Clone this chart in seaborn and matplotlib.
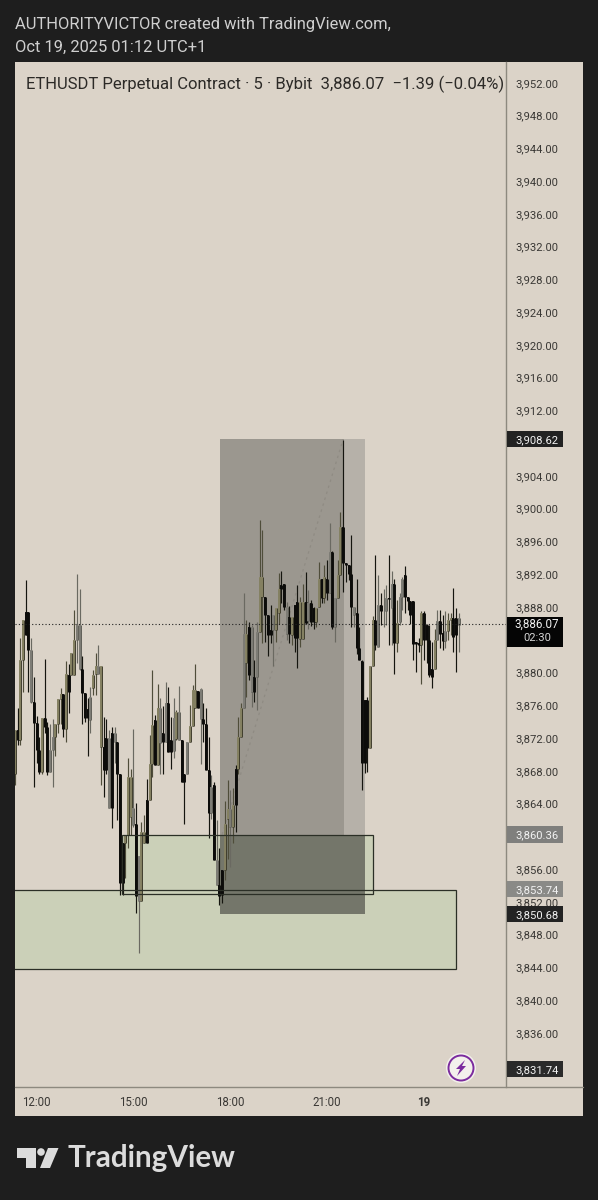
import matplotlib
matplotlib.use("Agg")
import matplotlib.pyplot as plt
import matplotlib.patches as mpatches
from matplotlib.transforms import ScaledTranslation
import numpy as np
import pandas as pd
import seaborn as sns

sns.set_style("white")
plt.rcParams["font.family"] = ["Roboto", "DejaVu Sans"]

# 5 minute candles
opens = [3867.8, 3873.1, 3871.9, 3881.7, 3884.7, 3887.5, 3882.9, 3876.6, 3874.0, 3870.7,
         3868.0, 3874.6, 3873.5, 3868.0, 3870.7, 3872.3, 3873.9, 3876.9, 3877.5, 3873.3,
         3879.8, 3879.8, 3879.8, 3884.1, 3886.0, 3880.6, 3877.7, 3874.6, 3874.4, 3878.2,
         3879.9, 3879.9, 3880.9, 3871.1, 3868.3, 3872.1, 3863.6, 3872.7, 3871.7, 3867.8,
         3854.4, 3859.3, 3860.3, 3867.4, 3861.5, 3861.6, 3852.2, 3852.2, 3860.7, 3859.3,
         3864.6, 3873.7, 3868.9, 3868.9, 3875.8, 3871.7, 3876.4, 3876.4, 3870.4, 3870.5,
         3872.0, 3875.3, 3871.9, 3866.8, 3867.8, 3871.6, 3873.6, 3878.0, 3875.8, 3878.1,
         3874.5, 3873.9, 3868.2, 3863.0, 3866.4, 3857.3, 3854.2, 3853.0, 3856.0, 3862.3,
         3863.5, 3861.3, 3864.0, 3868.4, 3872.3, 3875.8, 3884.9, 3879.8, 3885.7, 3877.8,
         3879.6, 3885.1, 3891.8, 3889.4, 3887.2, 3885.3, 3885.3, 3885.3, 3887.4, 3890.8,
         3890.9, 3888.2, 3884.9, 3884.7, 3884.3, 3888.7, 3888.8, 3884.2, 3888.8, 3886.4,
         3888.6, 3888.0, 3886.3, 3888.2, 3891.5, 3889.2, 3891.6, 3889.8, 3894.9, 3885.7,
         3889.2, 3892.0, 3897.9, 3893.5, 3893.3, 3892.2, 3888.2, 3887.4, 3883.1, 3881.5,
         3876.8, 3876.8, 3870.9, 3880.9, 3886.6, 3883.3, 3888.4, 3887.6, 3887.7, 3889.3,
         3888.0, 3891.0, 3883.7, 3886.3, 3889.4, 3892.1, 3889.4, 3888.9, 3888.9, 3883.9,
         3883.8, 3883.5, 3887.4, 3885.9, 3884.1, 3880.6, 3880.6, 3884.1, 3886.4, 3885.0,
         3884.0, 3885.2, 3886.6, 3886.8, 3886.8, 3885.9]
highs = [3873.1, 3875.8, 3884.3, 3886.6, 3891.4, 3887.5, 3884.3, 3879.6, 3874.8, 3872.3,
         3874.6, 3881.8, 3874.1, 3873.9, 3874.5, 3873.9, 3876.9, 3878.2, 3877.5, 3881.5,
         3881.2, 3882.5, 3887.8, 3892.2, 3890.4, 3882.1, 3877.7, 3877.0, 3878.4, 3880.4,
         3882.5, 3883.5, 3880.9, 3874.7, 3874.5, 3873.1, 3873.5, 3873.5, 3871.7, 3867.8,
         3859.3, 3860.3, 3869.7, 3868.4, 3873.2, 3864.2, 3857.7, 3861.9, 3862.7, 3867.2,
         3872.5, 3880.4, 3875.0, 3878.7, 3877.0, 3876.0, 3879.0, 3878.4, 3874.7, 3877.0,
         3875.6, 3878.5, 3871.9, 3867.8, 3871.6, 3876.2, 3878.6, 3881.2, 3877.9, 3878.2,
         3876.4, 3875.8, 3872.3, 3867.6, 3866.8, 3862.1, 3858.7, 3856.0, 3864.4, 3867.0,
         3865.8, 3866.0, 3868.8, 3874.7, 3876.4, 3889.8, 3886.5, 3886.3, 3885.9, 3881.7,
         3886.3, 3898.8, 3897.5, 3889.4, 3887.2, 3888.4, 3887.2, 3888.0, 3892.3, 3892.5,
         3890.9, 3888.7, 3888.3, 3886.9, 3888.4, 3890.8, 3889.4, 3891.0, 3892.4, 3890.2,
         3889.0, 3888.2, 3888.0, 3893.6, 3891.5, 3893.3, 3893.9, 3898.4, 3895.0, 3889.2,
         3893.9, 3899.7, 3908.5, 3893.5, 3893.3, 3896.9, 3888.2, 3891.6, 3885.7, 3881.7,
         3876.8, 3877.2, 3880.9, 3887.0, 3894.5, 3892.0, 3889.8, 3890.4, 3890.8, 3894.5,
         3892.5, 3891.6, 3889.0, 3889.8, 3891.8, 3893.1, 3889.4, 3888.9, 3888.9, 3883.9,
         3884.4, 3887.6, 3887.6, 3886.1, 3885.9, 3883.9, 3885.5, 3887.8, 3887.8, 3887.2,
         3887.6, 3887.4, 3887.4, 3890.5, 3888.0, 3887.4]
lows = [3866.4, 3871.3, 3871.3, 3877.8, 3884.7, 3877.8, 3876.4, 3866.2, 3869.1, 3867.8,
        3867.8, 3872.7, 3867.6, 3868.0, 3866.2, 3869.9, 3872.7, 3873.9, 3872.3, 3871.7,
        3875.2, 3879.8, 3879.8, 3881.3, 3880.4, 3873.9, 3874.1, 3869.9, 3872.7, 3877.4,
        3877.4, 3879.9, 3866.4, 3865.0, 3867.8, 3863.6, 3861.1, 3869.1, 3862.1, 3853.0,
        3853.0, 3855.0, 3858.7, 3860.3, 3861.3, 3850.8, 3845.9, 3852.2, 3859.3, 3859.3,
        3864.6, 3867.4, 3868.8, 3868.8, 3867.8, 3867.8, 3871.7, 3870.4, 3868.4, 3869.7,
        3871.9, 3871.9, 3866.8, 3861.7, 3867.8, 3871.6, 3873.6, 3875.8, 3875.8, 3869.0,
        3871.7, 3868.2, 3859.9, 3862.3, 3857.3, 3854.2, 3851.8, 3852.0, 3854.8, 3857.4,
        3856.4, 3859.3, 3860.7, 3867.8, 3872.3, 3875.8, 3877.2, 3879.2, 3875.9, 3876.6,
        3875.6, 3885.1, 3883.7, 3883.9, 3882.1, 3883.7, 3880.9, 3883.9, 3886.1, 3888.6,
        3887.8, 3884.1, 3883.7, 3883.5, 3882.7, 3880.7, 3883.3, 3884.2, 3886.1, 3885.5,
        3885.8, 3885.4, 3885.7, 3888.2, 3888.6, 3888.6, 3889.0, 3889.8, 3885.5, 3883.9,
        3889.2, 3892.0, 3890.0, 3891.2, 3891.4, 3885.7, 3885.7, 3882.4, 3881.7, 3865.8,
        3867.9, 3868.0, 3870.9, 3880.9, 3882.9, 3883.3, 3885.9, 3885.7, 3885.9, 3883.5,
        3883.5, 3880.0, 3882.7, 3885.9, 3887.8, 3887.4, 3887.8, 3886.1, 3881.7, 3880.2,
        3882.7, 3878.8, 3881.7, 3881.3, 3879.6, 3878.2, 3880.6, 3884.1, 3883.1, 3882.9,
        3883.1, 3884.1, 3884.7, 3882.7, 3880.2, 3882.7]
closes = [3873.1, 3871.9, 3881.7, 3886.6, 3887.5, 3882.9, 3876.6, 3874.0, 3870.7, 3868.0,
          3874.6, 3873.5, 3868.0, 3870.7, 3872.3, 3873.9, 3876.9, 3877.5, 3873.3, 3880.0,
          3877.8, 3882.5, 3884.1, 3886.0, 3880.6, 3877.7, 3874.6, 3875.7, 3877.2, 3879.8,
          3880.9, 3880.9, 3871.1, 3868.3, 3872.1, 3863.6, 3872.7, 3871.7, 3867.8, 3854.4,
          3859.3, 3860.3, 3867.4, 3862.5, 3863.6, 3852.8, 3857.7, 3860.7, 3859.3, 3864.6,
          3869.0, 3869.0, 3874.4, 3875.8, 3871.5, 3872.7, 3871.7, 3870.4, 3871.9, 3874.6,
          3875.3, 3871.9, 3866.8, 3867.8, 3871.6, 3873.6, 3878.0, 3875.8, 3877.9, 3874.5,
          3873.9, 3868.2, 3863.0, 3866.2, 3857.3, 3854.2, 3852.9, 3856.0, 3861.7, 3863.5,
          3861.3, 3864.0, 3868.4, 3872.3, 3875.8, 3884.9, 3881.3, 3885.7, 3877.8, 3879.6,
          3885.1, 3891.8, 3889.4, 3887.2, 3884.7, 3884.7, 3887.2, 3888.0, 3890.3, 3890.3,
          3888.2, 3884.9, 3886.9, 3886.9, 3888.4, 3884.3, 3884.2, 3888.8, 3886.2, 3888.6,
          3886.3, 3886.3, 3888.0, 3891.5, 3889.2, 3891.8, 3889.8, 3894.9, 3885.7, 3889.2,
          3892.0, 3897.9, 3893.5, 3893.3, 3892.2, 3888.2, 3887.2, 3883.1, 3881.7, 3869.1,
          3869.1, 3870.9, 3880.9, 3886.6, 3883.5, 3888.4, 3887.6, 3887.7, 3889.2, 3889.1,
          3891.0, 3883.7, 3886.2, 3889.4, 3891.6, 3889.4, 3888.9, 3887.2, 3883.6, 3883.6,
          3883.5, 3887.4, 3884.1, 3884.1, 3879.8, 3879.6, 3884.1, 3886.4, 3884.9, 3884.0,
          3885.2, 3886.6, 3886.8, 3884.5, 3884.7, 3886.8]
kinds = list("okookkgkkk"
             "okkggoooko"
             "kooggkkkgo"
             "ogokkgkgkk"
             "kooogkgook"
             "ookogkgkkg"
             "ogkkgoookg"
             "kkkgkgkkoo"
             "gokoogokgk"
             "gookkkgook"
             "kgkokkookg"
             "kkookokgkg"
             "ookkkkgkkk"
             "kkookgkggk"
             "gkoggkkkkk"
             "kokkkkogkk"
             "gookkg")

time_ticks = [8, 44, 80, 116, 152]
time_labels = ["12:00", "15:00", "18:00", "21:00", "19"]
# the tags cover 3,908 / 3,884 / 3,860 on the scale
price_ticks = [p for p in range(3836, 3953, 4) if p not in (3908, 3884, 3860)]

last_price = 3886.07
trade_top = 3908.62
trade_mid = 3860.36
trade_bottom = 3850.68
low_tag = 3831.74
zone_top = 3853.74

body_colors = {"k": "#0c0c0a", "g": "#82817a", "o": "#8f8b6a"}
edge_colors = {"k": "#0c0c0a", "g": "#5f5e57", "o": "#3f3d2c"}
wick_colors = {"k": "#15150f", "g": "#6a6961", "o": "#4f4d3a"}

bars = pd.DataFrame({"i": np.arange(len(opens)), "open": opens, "high": highs,
                     "low": lows, "close": closes, "kind": kinds})
wicks = bars.melt(id_vars=["i", "kind"], value_vars=["high", "low"], value_name="price")
bodies = bars.melt(id_vars=["i", "kind"], value_vars=["open", "close"], value_name="price")

W, H = 598, 1200
fig = plt.figure(figsize=(W / 100, H / 100), dpi=100, facecolor="#1e1e1e")

# px overlay for the frame, header and logo
over = fig.add_axes([0, 0, 1, 1], zorder=0)
over.set_xlim(0, W)
over.set_ylim(H, 0)
over.axis("off")
over.add_patch(mpatches.Rectangle((15, 62), 568, 1054, fc="#dbd3c8", ec="none"))
over.plot([15, 583], [1086.5, 1086.5], color="#8d897f", lw=1)

ax = fig.add_axes([15 / W, 1 - 1086.5 / H, 491 / W, 1024.5 / H], zorder=1)
ax.patch.set_alpha(0)
ax.set_xlim(0, 491 / 2.69)
ax.set_ylim(3952 - 1002.5 / 8.19, 3952 + 22 / 8.19)


def box(x0, x1, y0, y1, **kw):
    ax.add_patch(mpatches.Rectangle((x0, y0), x1 - x0, y1 - y0, **kw))


# green zones, then the long position tool over them
box(-5, 163.9, 3843.9, 3853.6, fc="#cbd0b8", ec="none", zorder=1)
box(39.8, 133.1, 3853.1, trade_mid, fc="#cbd0b8", ec="none", zorder=1)
box(76.2, 122.3, trade_mid, trade_top, fc="#9b978f", ec="none", zorder=1.2)
box(122.3, 130.1, trade_mid, trade_top, fc="#b6b1a9", ec="none", zorder=1.2)
box(76.2, 130.1, trade_bottom, trade_mid, fc="#74766a", ec="none", zorder=1.2)
ax.plot([77, 122], [trade_mid, trade_top], color="#8f8b83", lw=0.9, ls=(0, (2, 3)), zorder=1.3)

sns.lineplot(data=wicks, x="i", y="price", units="i", hue="kind", palette=wick_colors,
             estimator=None, sort=False, legend=False, linewidth=0.85, ax=ax,
             solid_capstyle="butt", zorder=3)
sns.lineplot(data=bodies, x="i", y="price", units="i", hue="kind", palette=edge_colors,
             estimator=None, sort=False, legend=False, linewidth=2.1, ax=ax,
             solid_capstyle="butt", zorder=3.1)
sns.lineplot(data=bodies, x="i", y="price", units="i", hue="kind", palette=body_colors,
             estimator=None, sort=False, legend=False, linewidth=1.25, ax=ax,
             solid_capstyle="butt", zorder=3.2)

# zone outlines sit over the candles
box(-5, 163.9, 3843.9, 3853.6, fc="none", ec="#2b2f26", lw=0.9, zorder=4)
box(39.8, 133.1, 3853.1, trade_mid, fc="none", ec="#2b2f26", lw=0.9, zorder=4)

ax.axhline(last_price, color="#222222", lw=0.8, ls=(0, (1, 2)), zorder=4)

ax.set_xlabel("")
ax.set_ylabel("")
ax.set_xticks(time_ticks)
ax.set_xticklabels(time_labels, fontsize=8.3, color="#3a3835")
ax.get_xticklabels()[-1].set_fontweight("bold")
ax.yaxis.tick_right()
ax.set_yticks(price_ticks)
ax.set_yticklabels([f"{p:,.2f}" for p in price_ticks], fontsize=8.1, color="#3a3835",
                   va="center_baseline")
ax.tick_params(axis="both", length=0)
ax.tick_params(axis="x", pad=7)
ax.tick_params(axis="y", pad=7)
# scale text sits a pixel higher than the tick position
nudge = ScaledTranslation(0, 1.2 / 100, fig.dpi_scale_trans)
for lab in ax.get_yticklabels():
    lab.set_transform(lab.get_transform() + nudge)
for name in ["top", "left", "bottom"]:
    ax.spines[name].set_visible(False)
ax.spines["right"].set_color("#8d897f")
ax.spines["right"].set_linewidth(1)

# price tags on the axis
tag_trans = ax.get_yaxis_transform()
for price, color in [(trade_top, "#222222"), (trade_mid, "#7f7f7d"), (zone_top, "#8a8a87"),
                     (trade_bottom, "#232323"), (low_tag, "#2a2a2a")]:
    ax.add_patch(mpatches.Rectangle((1.002, price - 1.0), 0.114, 2.0, fc=color, ec="none",
                                    transform=tag_trans, clip_on=False, zorder=6))
    ax.text(1.063, price, f"{price:,.2f}", transform=tag_trans, color="#f2f2f2",
            fontsize=8.1, ha="center", va="center_baseline", zorder=7)
ax.add_patch(mpatches.Rectangle((1.002, 3883.3), 0.114, 3.65, fc="#050505", ec="none",
                                transform=tag_trans, clip_on=False, zorder=6))
ax.text(1.063, last_price + 0.1, f"{last_price:,.2f}", transform=tag_trans, color="#f2f2f2",
        fontsize=8.4, ha="center", va="center_baseline", zorder=7)
ax.text(1.063, 3884.5, "02:30", transform=tag_trans, color="#d4d4d4",
        fontsize=8.1, ha="center", va="center_baseline", zorder=7)

top = fig.add_axes([0, 0, 1, 1], zorder=2)
top.set_xlim(0, W)
top.set_ylim(H, 0)
top.axis("off")
top.patch.set_alpha(0)

top.text(15, 25, "AUTHORITYVICTOR created with TradingView.com,", fontsize=11.9,
         color="#cfcfcf", va="center")
top.text(15, 47, "Oct 19, 2025 01:12 UTC+1", fontsize=11.9, color="#cfcfcf", va="center")
top.text(26, 84, "ETHUSDT Perpetual Contract · 5 · Bybit  3,886.07  −1.39 (−0.04%)",
         fontsize=11.95, color="#2c2a27", va="center")

# replay badge
top.add_patch(mpatches.Circle((461, 1068), 15, fc="#f3f0ec", ec="none"))
top.add_patch(mpatches.Circle((461, 1068), 12.5, fc="#f3f0ec", ec="#7b2b9e", lw=1.4))
top.add_patch(mpatches.Polygon([(465, 1060), (456, 1069), (460, 1069), (457, 1076),
                                (466, 1066), (462, 1066)], fc="#7b2b9e", ec="none"))

# TradingView logo
logo = "#dcdcdc"
top.add_patch(mpatches.Polygon([(17, 1148), (36, 1148), (36, 1168), (26, 1168), (26, 1158),
                                (17, 1158)], fc=logo, ec="none"))
top.add_patch(mpatches.Circle((41, 1152), 3.8, fc=logo, ec="none"))
top.add_patch(mpatches.Polygon([(48, 1148), (58.5, 1148), (50, 1168), (40, 1168)],
                               fc=logo, ec="none"))
top.text(68, 1158, "TradingView", fontsize=21.3, color=logo, va="center", fontweight="bold",
         family="Lato")

fig.savefig("out.png", dpi=100, facecolor=fig.get_facecolor())
